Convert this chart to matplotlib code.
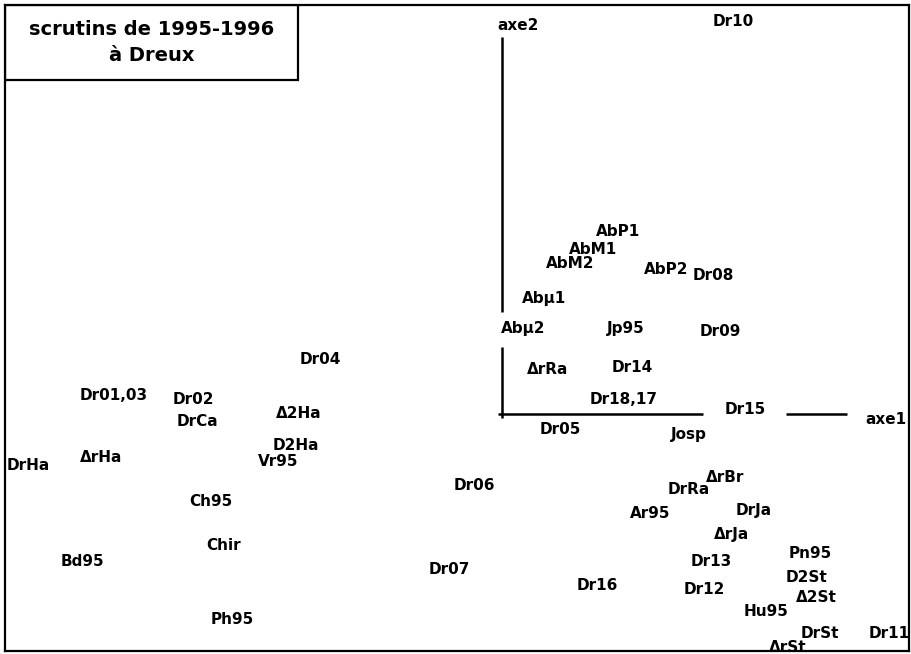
import matplotlib
matplotlib.use("Agg")
import matplotlib.pyplot as plt
from matplotlib.patches import Rectangle

# factor scores (axe1, axe2)
labels = ["Dr10", "AbP1", "AbM1", "AbM2", "AbP2", "Dr08", "Abµ1", "Abµ2", "Jp95", "Dr09",
          "ΔrRa", "Dr14", "Dr18,17", "Dr15", "Dr05", "Josp",
          "Dr04", "Dr01,03", "Dr02", "DrCa", "Δ2Ha", "D2Ha", "Vr95", "DrHa", "ΔrHa",
          "Ch95", "Chir", "Bd95", "Ph95",
          "Dr06", "ΔrBr", "DrRa", "DrJa", "Ar95", "ΔrJa", "Pn95", "Dr13", "Dr07", "D2St",
          "Dr16", "Dr12", "Δ2St", "Hu95", "DrSt", "ΔrSt", "Dr11"]
axe1 = [2.31, 1.16, 0.91, 0.68, 1.64, 2.11, 0.42, 0.21, 1.24, 2.18,
        0.46, 1.30, 1.22, 2.43, 0.58, 1.87,
        -1.82, -3.88, -3.09, -3.05, -2.03, -2.06, -2.24, -4.74, -4.01,
        -2.91, -2.78, -4.20, -2.70,
        -0.28, 2.23, 1.87, 2.52, 1.48, 2.30, 3.08, 2.09, -0.53, 3.05,
        0.95, 2.02, 3.14, 2.64, 3.18, 2.86, 3.87]
axe2 = [3.92, 1.83, 1.64, 1.50, 1.45, 1.38, 1.15, 0.85, 0.85, 0.83,
        0.44, 0.47, 0.14, 0.04, -0.15, -0.20,
        0.54, 0.19, 0.14, -0.07, 0.00, -0.32, -0.48, -0.51, -0.44,
        -0.88, -1.32, -1.47, -2.06,
        -0.72, -0.64, -0.76, -0.96, -0.99, -1.21, -1.40, -1.48, -1.56, -1.63,
        -1.71, -1.76, -1.84, -1.98, -2.19, -2.34, -2.20]

# principal axes, drawn in pieces with gaps for the labels
axe2_segments = [(3.77, 1.02), (0.67, -0.04)]
axe1_segments = [(-0.04, 2.01), (2.84, 3.45)]

fig = plt.figure(figsize=(9.12, 6.54), dpi=100)
ax = fig.add_axes([5 / 912, 3 / 654, 904 / 912, 646 / 654])
ax.set_xlim(-4.97, 4.07)
ax.set_ylim(-2.37, 4.09)
ax.set_xticks([])
ax.set_yticks([])
for s in ax.spines.values():
    s.set_linewidth(1.6)

for y0, y1 in axe2_segments:
    ax.plot([0, 0], [y0, y1], color="black", lw=1.8, solid_capstyle="butt")
for x0, x1 in axe1_segments:
    ax.plot([x0, x1], [0, 0], color="black", lw=1.8, solid_capstyle="butt")

ax.text(0.16, 3.89, "axe2", ha="center", va="center", fontsize=11, fontweight="bold")
ax.text(3.84, -0.05, "axe1", ha="center", va="center", fontsize=11, fontweight="bold")

for lab, x, y in zip(labels, axe1, axe2):
    ax.text(x, y, lab, ha="center", va="center", fontsize=11, fontweight="bold",
            clip_on=True)

# title box in the top left corner
ax.add_patch(Rectangle((0, 0.884), 0.324, 0.116, transform=ax.transAxes,
                       fill=False, lw=1.6, edgecolor="black"))
ax.text(0.162, 0.942, "scrutins de 1995-1996\nà Dreux", transform=ax.transAxes,
        ha="center", va="center", fontsize=14, fontweight="bold", linespacing=1.45)

fig.savefig("out.png", dpi=100)
